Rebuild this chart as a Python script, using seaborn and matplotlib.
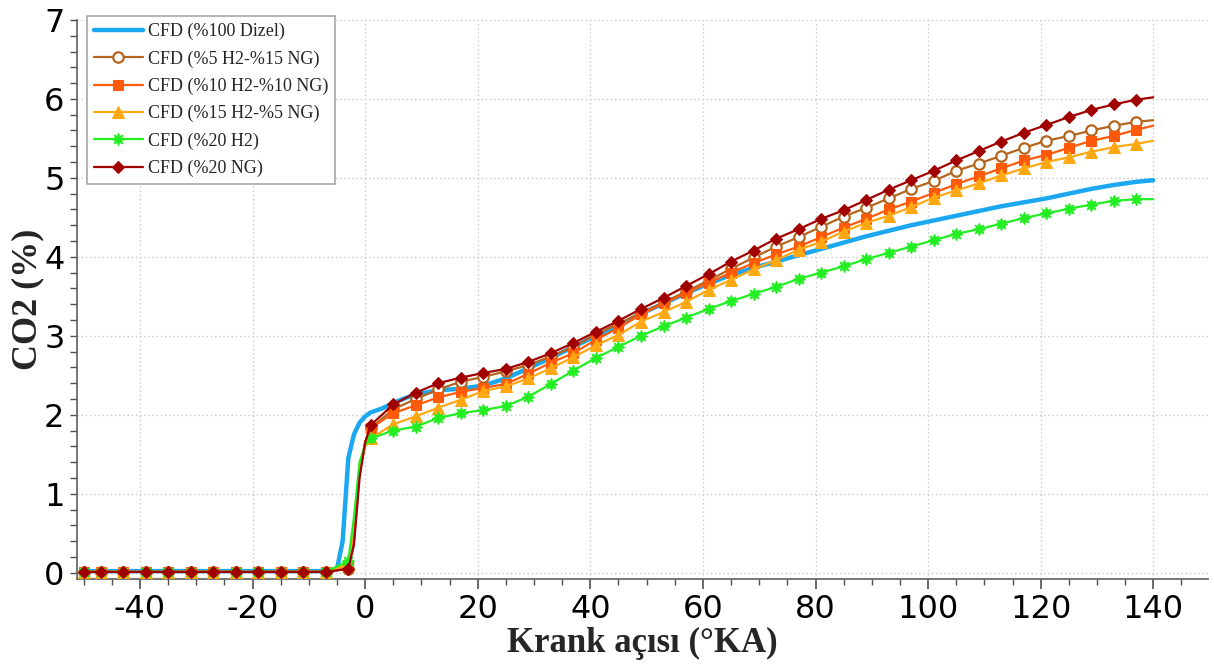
import numpy as np
import pandas as pd
import matplotlib
matplotlib.use("Agg")
import matplotlib.pyplot as plt
from matplotlib.ticker import MultipleLocator
import seaborn as sns

# ---------------- data ----------------
pre_angle = [-50, -47, -43, -39, -35, -31, -27, -23, -19, -15, -11, -7, -3, -2, -1, 0]
post_angle = [1, 5, 9, 13, 17, 21, 25, 29, 33, 37, 41, 45, 49, 53, 57, 61, 65, 69,
              73, 77, 81, 85, 89, 93, 97, 101, 105, 109, 113, 117, 121, 125, 129,
              133, 137, 140]
angle_mk = pre_angle + post_angle

zero_part = [0.01] * 12

h5_ng15 = zero_part + [0.05, 0.40, 1.25, 1.65,
           1.83, 2.07, 2.20, 2.32, 2.42, 2.48, 2.55, 2.63, 2.74, 2.86, 3.02, 3.15,
           3.29, 3.42, 3.56, 3.70, 3.85, 3.99, 4.13, 4.25, 4.38, 4.51, 4.62, 4.74,
           4.86, 4.96, 5.09, 5.18, 5.28, 5.38, 5.47, 5.53, 5.60, 5.66, 5.71, 5.73]
h10_ng10 = zero_part + [0.10, 0.50, 1.30, 1.65,
            1.83, 2.02, 2.12, 2.22, 2.29, 2.34, 2.39, 2.52, 2.66, 2.78, 2.95, 3.10,
            3.27, 3.41, 3.54, 3.67, 3.80, 3.92, 4.03, 4.13, 4.25, 4.37, 4.48, 4.60,
            4.70, 4.81, 4.92, 5.02, 5.12, 5.22, 5.29, 5.38, 5.47, 5.53, 5.61, 5.66]
h15_ng5 = zero_part + [0.10, 0.60, 1.35, 1.60,
           1.70, 1.88, 1.98, 2.09, 2.19, 2.30, 2.36, 2.46, 2.59, 2.73, 2.88, 3.01,
           3.18, 3.30, 3.43, 3.58, 3.71, 3.84, 3.96, 4.09, 4.19, 4.32, 4.43, 4.52,
           4.63, 4.75, 4.84, 4.93, 5.03, 5.12, 5.20, 5.26, 5.33, 5.39, 5.43, 5.47]
h20 = zero_part + [0.15, 0.70, 1.40, 1.62,
       1.70, 1.80, 1.85, 1.96, 2.02, 2.06, 2.11, 2.23, 2.39, 2.56, 2.72, 2.86,
       3.00, 3.12, 3.23, 3.34, 3.44, 3.53, 3.62, 3.72, 3.80, 3.88, 3.97, 4.05,
       4.13, 4.21, 4.29, 4.35, 4.42, 4.49, 4.55, 4.61, 4.66, 4.71, 4.73, 4.73]
ng20 = zero_part + [0.05, 0.35, 1.20, 1.65,
        1.87, 2.13, 2.28, 2.40, 2.47, 2.53, 2.58, 2.67, 2.78, 2.91, 3.05, 3.19,
        3.34, 3.48, 3.63, 3.78, 3.94, 4.08, 4.23, 4.35, 4.48, 4.59, 4.72, 4.85,
        4.97, 5.09, 5.22, 5.34, 5.46, 5.57, 5.67, 5.77, 5.86, 5.93, 5.99, 6.02]

diesel_angle = [-50, -6, -5, -4, -3, -2, -1, 0, 1, 3, 6, 9, 13, 17, 21, 25, 29, 33,
                37, 41, 45, 49, 53, 57, 61, 65, 69, 73, 77, 81, 85, 89, 93, 97, 101,
                105, 109, 113, 117, 121, 125, 129, 133, 137, 140]
diesel = [0.02, 0.02, 0.05, 0.40, 1.45, 1.75, 1.90, 1.98, 2.03, 2.08, 2.18, 2.26,
          2.31, 2.33, 2.37, 2.46, 2.59, 2.72, 2.86, 3.00, 3.13, 3.28, 3.41, 3.54,
          3.66, 3.77, 3.86, 3.94, 4.02, 4.10, 4.18, 4.26, 4.33, 4.40, 4.46, 4.52,
          4.58, 4.64, 4.69, 4.74, 4.80, 4.86, 4.91, 4.95, 4.97]

labels = ["CFD (%100 Dizel)", "CFD (%5 H2-%15 NG)", "CFD (%10 H2-%10 NG)",
          "CFD (%15 H2-%5 NG)", "CFD (%20 H2)", "CFD (%20 NG)"]

# ---------------- style ----------------
sns.set_theme(style="white")
plt.rcParams["font.family"] = ["DejaVu Sans"]
plt.rcParams["axes.unicode_minus"] = False

fig = plt.figure(figsize=(12.14, 6.64), dpi=100)
ax = fig.add_axes([0.0634, 0.128, 0.932, 0.842])

# marker indices: skip -2, -1, 0 and the final 140 point
mk_idx = [i for i, a in enumerate(angle_mk) if a not in (-2, -1, 0, 140)]

sns.lineplot(x=diesel_angle, y=diesel, ax=ax, color="#1BA8F0", lw=3.2,
             label=labels[0], sort=False, zorder=2)

series = [
    (h5_ng15, labels[1], "#B5651D", dict(marker="o", markersize=7.5, markerfacecolor="white",
                                          markeredgecolor="#B5651D", markeredgewidth=1.6)),
    (h10_ng10, labels[2], "#FF5A0A", dict(marker="s", markersize=7.5, markerfacecolor="#FF5A0A",
                                           markeredgecolor="#FF5A0A")),
    (h15_ng5, labels[3], "#FFA812", dict(marker="^", markersize=8, markerfacecolor="#FFA812",
                                          markeredgecolor="#FFA812")),
    (h20, labels[4], "#22EE22", dict(marker=(8, 1, 0), markersize=9, markerfacecolor="#22EE22",
                                      markeredgecolor="#22EE22")),
    (ng20, labels[5], "#A00000", dict(marker="D", markersize=6, markerfacecolor="#A00000",
                                       markeredgecolor="#A00000")),
]
for z, (vals, lab, col, mk) in enumerate(series):
    sns.lineplot(x=angle_mk, y=vals, ax=ax, color=col, lw=1.6, label=lab,
                 sort=False, markevery=mk_idx, zorder=3 + z, **mk)

# ---------------- axes ----------------
ax.set_xlim(-51.2, 149.8)
ax.set_ylim(-0.08, 7)
ax.xaxis.set_major_locator(MultipleLocator(20))
ax.xaxis.set_minor_locator(MultipleLocator(5))
ax.yaxis.set_major_locator(MultipleLocator(1))
ax.yaxis.set_minor_locator(MultipleLocator(0.2))

ax.grid(True, which="major", color="#C8C8C8", linestyle=(0, (1, 2)), lw=1.0)
ax.set_axisbelow(True)

for s in ["top", "right"]:
    ax.spines[s].set_visible(False)
for s in ["left", "bottom"]:
    ax.spines[s].set_color("#606060")
    ax.spines[s].set_linewidth(1.2)

ax.tick_params(axis="both", which="both", direction="out", colors="#505050",
               labelcolor="black", labelsize=23)
ax.tick_params(axis="x", which="major", length=7, width=1.2, pad=4, bottom=True)
ax.tick_params(axis="x", which="minor", length=4, width=1.0, bottom=True)
ax.tick_params(axis="y", which="major", length=5, width=1.0, pad=4, left=True)
ax.tick_params(axis="y", which="minor", length=5, width=1.0, left=True)

ax.set_xlabel("Krank açısı (°KA)", fontsize=25, fontweight="bold",
              family=["Liberation Serif"], labelpad=1)
ax.set_ylabel("CO2 (%)", fontsize=26, fontweight="bold",
              family=["Liberation Serif"], labelpad=0)

leg = ax.legend(loc="upper left", bbox_to_anchor=(0.009, 1.007), borderaxespad=0,
                prop={"family": "Liberation Serif", "size": 13}, frameon=True,
                fancybox=False, edgecolor="#A8A8A8", framealpha=1,
                handlelength=2.7, handletextpad=0.3, labelspacing=0.56,
                borderpad=0.38)
leg.get_frame().set_linewidth(1.2)

fig.savefig("out.png", dpi=100)
